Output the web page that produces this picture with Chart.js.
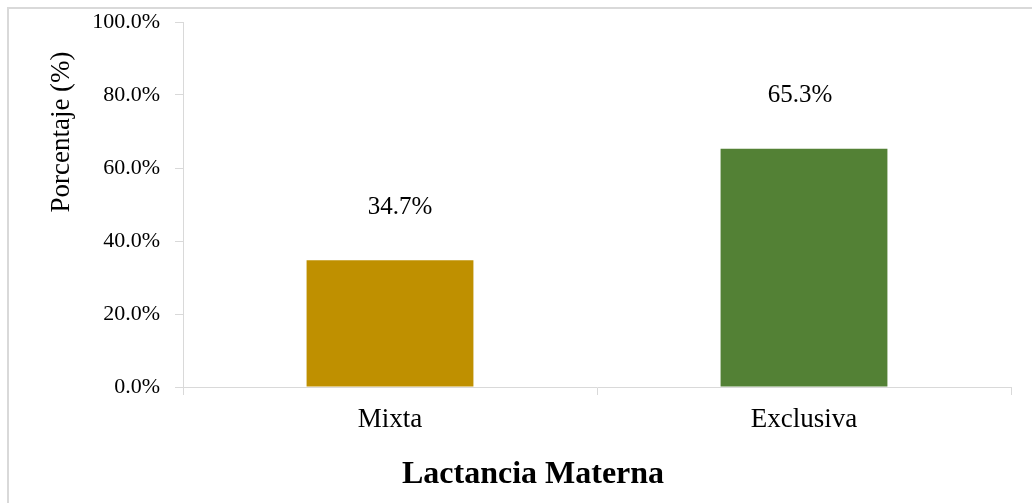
<!DOCTYPE html>
<html>
<head>
<meta charset="utf-8">
<script src="https://cdn.jsdelivr.net/npm/chart.js@4.4.1/dist/chart.umd.min.js"></script>
<style>
html,body{margin:0;padding:0;background:#fff;overflow:hidden;}
#wrap{position:relative;width:1032px;height:503px;}
#frame{position:absolute;left:7px;top:7px;width:1100px;height:600px;border:2px solid #d9d9d9;box-sizing:border-box;pointer-events:none;}
canvas{position:absolute;left:0;top:0;}
</style>
</head>
<body>
<div id="wrap">
  <canvas id="chart" width="1032" height="503"></canvas>
  <div id="frame"></div>
</div>
<script>
// datos
const categorias=['Mixta','Exclusiva'];
const porcentajes=[34.7,65.3];
const colores=['#BF9000','#538135'];
const yTicks=[0,20,40,60,80,100];
const tituloY='Porcentaje (%)';
const tituloX='Lactancia Materna';

const SERIF='"Liberation Serif","Times New Roman",serif';
const GRIS='#d9d9d9';
const desplazaEtiqueta=[10,-4]; // las etiquetas no van centradas del todo en el original

// etiquetas sobre las barras + títulos de ejes
const etiquetas={
  id:'etiquetas',
  afterDatasetsDraw(chart){
    const ctx=chart.ctx;
    const meta=chart.getDatasetMeta(0);
    ctx.save();
    ctx.font='25px '+SERIF;
    ctx.fillStyle='#000';
    ctx.textAlign='center';
    ctx.textBaseline='middle';
    meta.data.forEach((bar,i)=>{
      ctx.fillText(porcentajes[i].toFixed(1)+'%',bar.x+desplazaEtiqueta[i],bar.y-53);
    });
    ctx.restore();
  },
  afterDraw(chart){
    const ctx=chart.ctx;
    ctx.save();
    ctx.fillStyle='#000';
    ctx.textAlign='center';
    ctx.textBaseline='middle';
    ctx.font='bold 32px '+SERIF;
    ctx.fillText(tituloX,533,475);
    ctx.translate(62,132);
    ctx.rotate(-Math.PI/2);
    ctx.font='27px '+SERIF;
    ctx.fillText(tituloY,0,0);
    ctx.restore();
  }
};

new Chart(document.getElementById('chart'),{
  type:'bar',
  data:{labels:categorias,datasets:[{
    data:porcentajes,
    backgroundColor:colores,
    borderWidth:0,
    categoryPercentage:1,
    barPercentage:0.403
  }]},
  options:{
    responsive:false,
    animation:false,
    devicePixelRatio:1,
    layout:{padding:{top:22,right:21,bottom:0,left:0}},
    plugins:{legend:{display:false},tooltip:{enabled:false}},
    scales:{
      y:{
        min:0,max:100,
        afterBuildTicks:s=>{s.ticks=yTicks.map(v=>({value:v}));},
        afterFit:s=>{s.width=183;s.paddingTop=0;s.paddingBottom=0;},
        ticks:{callback:v=>v.toFixed(1)+'%',color:'#000',font:{family:SERIF,size:22},padding:15},
        grid:{drawOnChartArea:false,tickLength:8,color:GRIS,lineWidth:1},
        border:{color:GRIS,width:1}
      },
      x:{
        afterFit:s=>{s.height=116;s.paddingLeft=0;s.paddingRight=0;},
        ticks:{color:'#000',font:{family:SERIF,size:27},padding:9},
        grid:{offset:true,drawOnChartArea:false,tickLength:8,color:GRIS,lineWidth:1},
        border:{color:GRIS,width:1}
      }
    }
  },
  plugins:[etiquetas]
});
</script>
</body>
</html>
